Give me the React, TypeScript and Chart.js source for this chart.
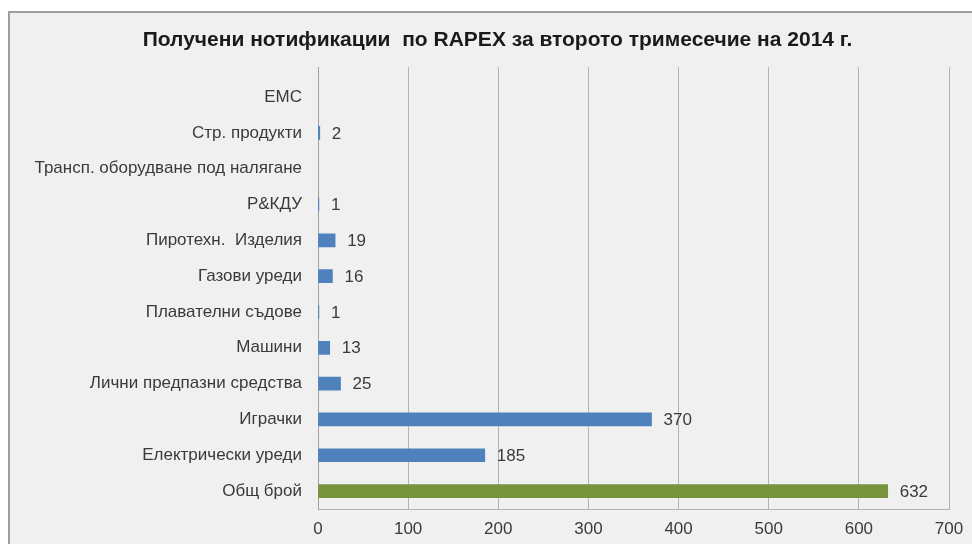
import React, { useEffect, useRef } from "react";
import { Chart, registerables } from "chart.js";

Chart.register(...registerables);

const chartTitle = "Получени нотификации  по RAPEX за второто тримесечие на 2014 г.";

const categories: string[] = [
  "EMC",
  "Стр. продукти",
  "Трансп. оборудване под налягане",
  "Р&КДУ",
  "Пиротехн.  Изделия",
  "Газови уреди",
  "Плавателни съдове",
  "Машини",
  "Лични предпазни средства",
  "Играчки",
  "Електрически уреди",
  "Общ брой",
];

const values: (number | null)[] = [null, 2, null, 1, 19, 16, 1, 13, 25, 370, 185, 632];

const xTickValues: number[] = [0, 100, 200, 300, 400, 500, 600, 700];

const BLUE = "#4f81bd";
const GREEN = "#77933c";
const FONT = "'Liberation Sans', Arial, sans-serif";
const TEXT = "#3a3a3a";

const valueLabels = {
  id: "valueLabels",
  afterDatasetsDraw(chart: any) {
    const ctx = chart.ctx;
    const meta = chart.getDatasetMeta(0);
    ctx.save();
    ctx.font = `17px ${FONT}`;
    ctx.fillStyle = TEXT;
    ctx.textAlign = "left";
    ctx.textBaseline = "middle";
    meta.data.forEach((el: any, i: number) => {
      const v = values[i];
      if (v === null || v === undefined) return;
      ctx.fillText(String(v), el.x + 12, el.y + 1);
    });
    ctx.restore();
  },
};

export default function App() {
  const ref = useRef<HTMLCanvasElement | null>(null);

  useEffect(() => {
    if (!ref.current) return;
    const chart = new Chart(ref.current, {
      type: "bar",
      data: {
        datasets: [
          {
            data: values.map((v, i) => ({ x: v, y: i })) as any,
            backgroundColor: values.map((_, i) => (i === values.length - 1 ? GREEN : BLUE)),
            borderWidth: 0,
            barThickness: 13,
          },
        ],
      },
      options: {
        indexAxis: "y",
        responsive: false,
        animation: false,
        layout: { padding: { left: 13, right: 0, top: 0, bottom: 5 } },
        plugins: {
          legend: { display: false },
          tooltip: { enabled: false },
          title: {
            display: true,
            text: chartTitle,
            color: "#1a1a1a",
            font: { family: FONT, size: 21, weight: "bold" },
            padding: { top: 15, bottom: 14 },
          },
        },
        scales: {
          x: {
            type: "linear",
            position: "bottom",
            min: xTickValues[0],
            max: xTickValues[xTickValues.length - 1],
            afterBuildTicks: (s: any) => {
              s.ticks = xTickValues.map((v) => ({ value: v }));
            },
            afterFit: (s: any) => {
              s.height = 30;
              s.paddingRight = 23;
            },
            ticks: { color: TEXT, font: { family: FONT, size: 17 }, padding: 10 },
            grid: { color: "#b3b3b3", drawTicks: false, tickLength: 0 },
            border: { color: "#b3b3b3" },
          },
          y: {
            type: "linear",
            reverse: true,
            offset: false,
            bounds: "data",
            grace: 0,
            min: -0.833,
            max: 11.5,
            afterBuildTicks: (s: any) => {
              s.ticks = categories.map((_, i) => ({ value: i }));
            },
            afterFit: (s: any) => {
              s.width = 295;
            },
            ticks: {
              autoSkip: false,
              padding: 16,
              color: TEXT,
              font: { family: FONT, size: 17 },
              callback: (v: any) => categories[v] ?? "",
            },
            grid: { display: false, drawTicks: false, tickLength: 0 },
            border: { display: true, color: "#a0a0a0" },
          },
        },
      } as any,
      plugins: [valueLabels],
    });
    return () => chart.destroy();
  }, []);

  return (
    <div
      style={{
        position: "absolute",
        left: 8,
        top: 11,
        width: 962,
        height: 531,
        borderLeft: "2px solid #9e9e9e",
        borderTop: "2px solid #9e9e9e",
        background: "#f0f0f0",
        overflow: "hidden",
      }}
    >
      <canvas ref={ref} width={962} height={531} style={{ display: "block" }} />
    </div>
  );
}
